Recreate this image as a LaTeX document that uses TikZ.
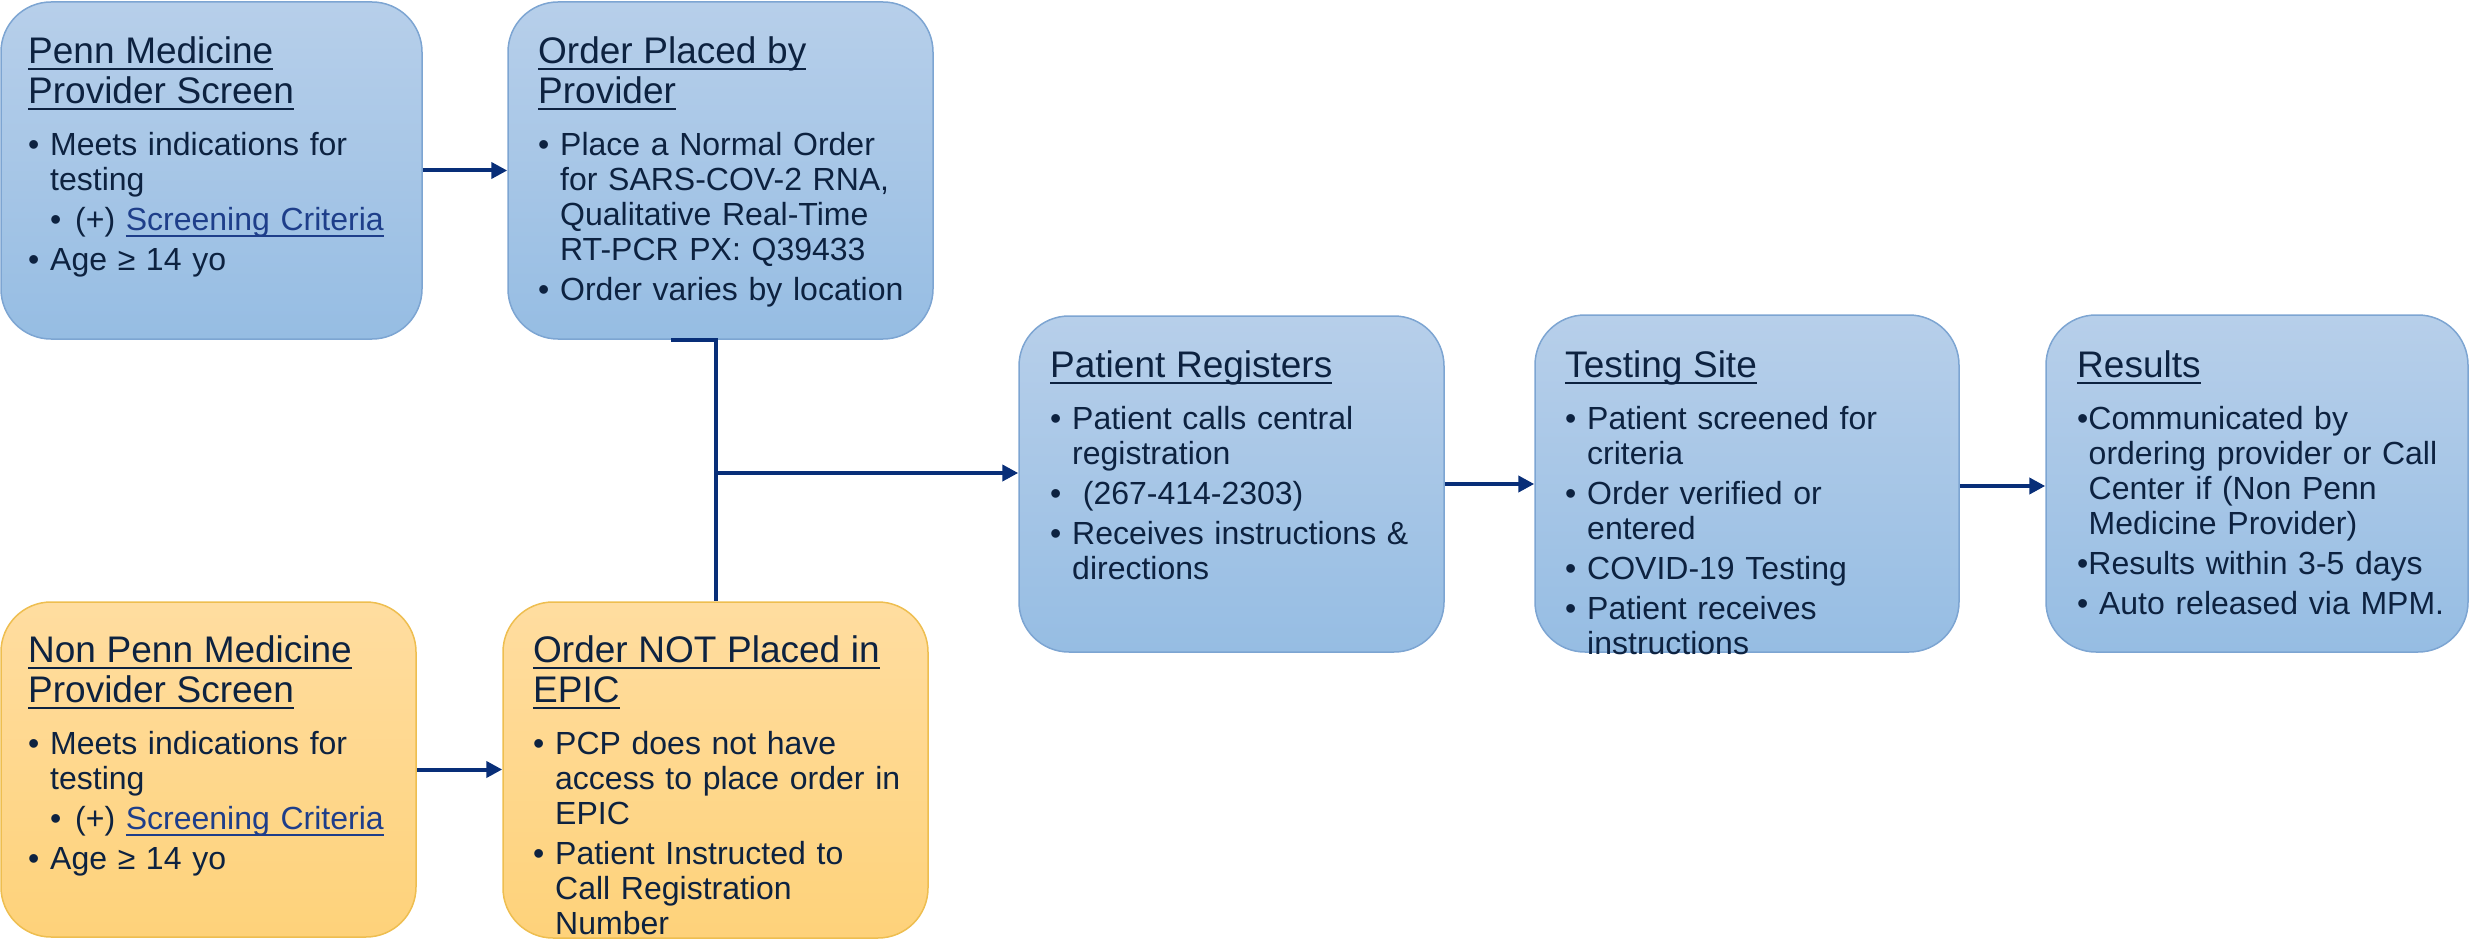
\documentclass[tikz,border=0pt]{standalone}
\usepackage{fontspec}
\setmainfont{Liberation Sans}
\usetikzlibrary{arrows.meta}
\newsavebox{\ulnbox}
\newcommand\uln[1]{\leavevmode\sbox{\ulnbox}{#1}\rlap{\rule[-7pt]{\wd\ulnbox}{2.5pt}}\usebox{\ulnbox}}
\definecolor{txtc}{RGB}{13,34,64}
\definecolor{lnkc}{RGB}{30,62,138}
\definecolor{arrc}{RGB}{8,46,120}
\definecolor{blueT}{RGB}{183,207,234}
\definecolor{blueB}{RGB}{150,189,227}
\definecolor{blueD}{RGB}{125,165,210}
\definecolor{orT}{RGB}{255,221,160}
\definecolor{orB}{RGB}{254,210,122}
\definecolor{orD}{RGB}{238,190,80}
\newcommand\bhead[1]{{\fontsize{37}{40}\selectfont\rule{0pt}{40pt}#1\par}\vspace{12pt}}
\newcommand\bitem[1]{\par\hangindent=22pt\hangafter=1\makebox[22pt][l]{•}#1\par}
\newcommand\bsub[1]{\par\hangindent=47pt\hangafter=1\hspace*{22pt}\makebox[25pt][l]{•}#1\par}
\newcommand\ritem[1]{\par\hangindent=11.5pt\hangafter=1 •#1\par}
\tikzset{
  bluebox/.style={draw=blueD, line width=1.5pt, rounded corners=50pt,
    top color=blueT, bottom color=blueB, inner sep=0pt},
  orbox/.style={draw=orD, line width=1.5pt, rounded corners=50pt,
    top color=orT, bottom color=orB, inner sep=0pt},
  txtbox/.style={anchor=north west, inner sep=0pt, text width=400pt, text=txtc,
    font=\fontsize{32}{35}\selectfont,
    execute at begin node={\raggedright\parindent=0pt\parskip=5pt}},
  conn/.style={draw=arrc, line width=4pt},
  arrow/.style={conn, -{Triangle[length=16pt,width=16pt]}}
}
\begin{document}
\begin{tikzpicture}[x=1pt,y=-1pt]
\useasboundingbox (0,0) rectangle (2469,939);
% boxes
\node[bluebox, minimum width=421pt, minimum height=337pt] (b1) at (211.5,170.5) {};
\node[bluebox, minimum width=425pt, minimum height=337pt] (b2) at (720.5,170.5) {};
\node[orbox, minimum width=415pt, minimum height=335pt] (b3) at (208.5,769.5) {};
\node[orbox, minimum width=425pt, minimum height=336pt] (b4) at (715.5,770) {};
\node[bluebox, minimum width=425pt, minimum height=336pt] (b5) at (1231.5,484) {};
\node[bluebox, minimum width=424pt, minimum height=337pt] (b6) at (1747,483.5) {};
\node[bluebox, minimum width=422pt, minimum height=337pt] (b7) at (2257,483.5) {};
% connectors
\draw[arrow] (b1.east) -- (b1.east -| b2.west);
\draw[arrow] (b3.east) -- (b3.east -| b4.west);
\draw[conn] ([xshift=-49.5pt]b2.south) -- (b4.north |- b2.south) -- (b4.north);
\coordinate (j) at (715.5,473);
\draw[arrow] (j) -- (j -| b5.west);
\draw[arrow] (b5.east) -- (b5.east -| b6.west);
\coordinate (k) at (1959,486);
\draw[arrow] (k -| b6.east) -- (k -| b7.west);
% texts
\node[txtbox] (t1) at (28,23) {%
\bhead{\uln{Penn Medicine}\newline\uln{Provider Screen}}
\bitem{Meets indications for\newline testing}
\bsub{(+) \textcolor{lnkc}{\uln{Screening Criteria}}}
\bitem{Age ≥ 14 yo}};
\node[txtbox] (t2) at (538,23) {%
\bhead{\uln{Order Placed by}\newline\uln{Provider}}
\bitem{Place a Normal Order\newline for SARS-COV-2 RNA,\newline Qualitative Real-Time\newline RT-PCR PX: Q39433}
\bitem{Order varies by location}};
\node[txtbox] (t3) at (28,622) {%
\bhead{\uln{Non Penn Medicine}\newline\uln{Provider Screen}}
\bitem{Meets indications for\newline testing}
\bsub{(+) \textcolor{lnkc}{\uln{Screening Criteria}}}
\bitem{Age ≥ 14 yo}};
\node[txtbox] (t4) at (533,622) {%
\bhead{\uln{Order NOT Placed in}\newline\uln{EPIC}}
\bitem{PCP does not have\newline access to place order in\newline EPIC}
\bitem{Patient Instructed to\newline Call Registration\newline Number}};
\node[txtbox] (t5) at (1050,337) {%
\bhead{\uln{Patient Registers}}
\bitem{Patient calls central\newline registration}
\bitem{\ (267-414-2303)}
\bitem{Receives instructions \&\newline directions}};
\node[txtbox] (t6) at (1565,337) {%
\bhead{\uln{Testing Site}}
\bitem{Patient screened for\newline criteria}
\bitem{Order verified or\newline entered}
\bitem{COVID-19 Testing}
\bitem{Patient receives\newline instructions}};
\node[txtbox, text width=385pt] (t7) at (2077,337) {%
\bhead{\uln{Results}}
\ritem{Communicated by\newline ordering provider or Call\newline Center if (Non Penn\newline Medicine Provider)}
\ritem{Results within 3-5 days}
\ritem{ Auto released via MPM.}};
\end{tikzpicture}
\end{document}
